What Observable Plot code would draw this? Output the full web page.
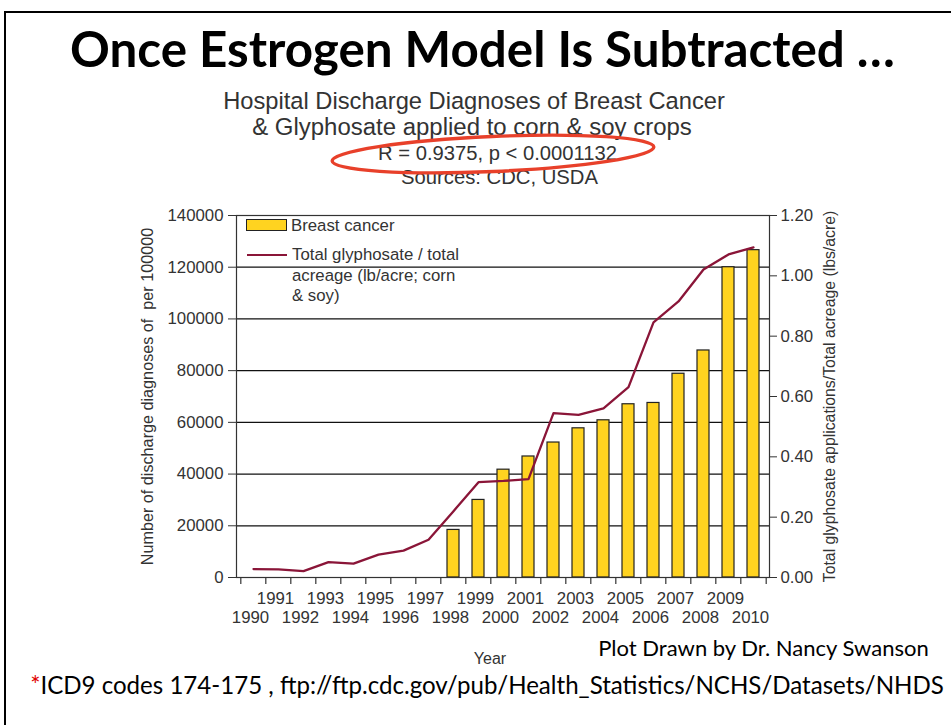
<!DOCTYPE html>
<html>
<head>
<meta charset="utf-8">
<script src="https://cdn.jsdelivr.net/npm/d3@7"></script>
<script src="https://cdn.jsdelivr.net/npm/@observablehq/plot@0.6"></script>
<style>
  html, body { margin: 0; padding: 0; background: #fff; }
  #page { position: relative; width: 951px; height: 725px; overflow: hidden; background: #fff; }
  #border { position: absolute; left: 4px; top: 11px; width: 1200px; height: 1000px; border-left: 2px solid #000; border-top: 2px solid #000; }
  .t { position: absolute; white-space: nowrap; line-height: 1; }
  .chart { font-family: "Liberation Sans", Arial, sans-serif; color: #333; }
  .slide { font-family: Lato, "Open Sans", sans-serif; color: #000; }
  #plot { position: absolute; left: 0; top: 195px; }
  .leg { position: absolute; font-family: "Liberation Sans", Arial, sans-serif; font-size: 16.8px; color: #333; white-space: nowrap; }
</style>
</head>
<body>
<div id="page">
  <div id="border"></div>
  <div id="plot"></div>
  <div class="t slide" id="title" style="font-weight:700;font-size:44px;">Once Estrogen Model Is Subtracted …</div>
  <div class="t chart" id="s1" style="font-size:21px;">Hospital Discharge Diagnoses of Breast Cancer</div>
  <div class="t chart" id="s2" style="font-size:21px;">&amp; Glyphosate applied to corn &amp; soy crops</div>
  <div class="t chart" id="s3" style="font-size:21px;">R = 0.9375, p &lt; 0.0001132</div>
  <div class="t chart" id="s4" style="font-size:21px;">Sources: CDC, USDA</div>
  <svg style="position:absolute;left:0;top:0;" width="951" height="725">
    <ellipse cx="493" cy="154" rx="161" ry="17.5" transform="rotate(-2.5 493 154)" fill="none" stroke="#e8402a" stroke-width="3.4"/>
  </svg>
  <div style="position:absolute;left:246px;top:219px;width:39px;height:10px;background:#FFD320;border:1.5px solid #222;"></div>
  <div class="leg" style="left:291px;top:216px;">Breast cancer</div>
  <div style="position:absolute;left:247px;top:253.5px;width:40px;height:2.5px;background:#8a1538;"></div>
  <div class="leg" style="left:292px;top:245px;line-height:20.5px;">Total glyphosate / total<br>acreage (lb/acre; corn<br>&amp; soy)</div>
  <div class="t slide" id="f1" style="font-size:20px;">Plot Drawn by Dr. Nancy Swanson</div>
  <div class="t slide" id="f2" style="font-size:23px;"><span style="color:#e00000;">*</span>ICD9 codes 174-175 , ftp://ftp.cdc.gov/pub/Health_Statistics/NCHS/Datasets/NHDS</div>
</div>
<script>
// ---- data ----
const years = [1990,1991,1992,1993,1994,1995,1996,1997,1998,1999,2000,2001,2002,2003,2004,2005,2006,2007,2008,2009,2010];
const cancerYears = [1998,1999,2000,2001,2002,2003,2004,2005,2006,2007,2008,2009,2010];
const cancerValues = [18400,30000,41700,46800,52200,57700,60800,67000,67500,78800,87800,120000,126600];
const glyphosateValues = [0.028,0.027,0.021,0.051,0.046,0.076,0.089,0.125,0.22,0.316,0.32,0.326,0.545,0.539,0.561,0.631,0.846,0.915,1.021,1.071,1.094];
const leftTicks = [0,20000,40000,60000,80000,100000,120000,140000];
const rightTicks = [0,0.2,0.4,0.6,0.8,1.0,1.2];
const leftMax = 140000, rightMax = 1.2;
const leftTitle = "Number of discharge diagnoses of  per 100000";
const rightTitle = "Total glyphosate applications/Total acreage (lbs/acre)";
const xTitle = "Year";

const k = leftMax / rightMax;
const bars = cancerYears.map((y, i) => ({year: y, value: cancerValues[i]}));
const line = years.map((y, i) => ({year: y, g: glyphosateValues[i]}));
const oddYears = years.filter(y => y % 2 === 1);
const evenYears = years.filter(y => y % 2 === 0);

const W = 951, H = 475, mL = 236, mR = 182, mT = 20, mB = 93;
const step = (W - mL - mR) / years.length;
const ink = "#333";

const chart = Plot.plot({
  width: W, height: H,
  marginTop: mT, marginBottom: mB, marginLeft: mL, marginRight: mR,
  style: {fontFamily: "'Liberation Sans', Arial, sans-serif", fontSize: "16.8px", color: ink, background: "transparent", overflow: "visible"},
  x: {type: "band", domain: years, paddingInner: 0.53, paddingOuter: 0.265},
  y: {domain: [0, leftMax]},
  marks: [
    Plot.ruleY(leftTicks, {stroke: "#111", strokeWidth: 1.2}),
    Plot.barY(bars, {x: "year", y: "value", fill: "#FFD320", stroke: "#222", strokeWidth: 1.2}),
    Plot.line(line, {x: "year", y: d => d.g * k, stroke: "#8a1538", strokeWidth: 2.3}),
    Plot.frame({stroke: ink, strokeWidth: 1.2}),
    Plot.axisY({ticks: leftTicks, anchor: "left", tickSize: 8, tickPadding: 5, tickFormat: d => String(d), label: null, stroke: ink}),
    Plot.axisY({ticks: rightTicks.map(v => v * k), anchor: "right", tickSize: 7, tickPadding: 4, tickFormat: d => (d / k).toFixed(2), label: null, stroke: ink}),
    Plot.axisX({ticks: oddYears, tickSize: 0, tickPadding: 14.5, tickFormat: d => String(d), label: null, dx: -3}),
    Plot.axisX({ticks: evenYears, tickSize: 0, tickPadding: 34, tickFormat: d => String(d), label: null, dx: -3}),
    Plot.ruleX(years, {x: d => d, y1: 0, y2: 0, insetBottom: -7, dx: -step / 2, stroke: ink, strokeWidth: 1.2}),
    Plot.ruleX([years[years.length - 1]], {x: d => d, y1: 0, y2: 0, insetBottom: -7, dx: step / 2, stroke: ink, strokeWidth: 1.2}),
    Plot.text([leftTitle], {text: d => d, frameAnchor: "left", textAnchor: "middle", rotate: -90, dx: -89, fontSize: 16.2}),
    Plot.text([rightTitle], {text: d => d, frameAnchor: "right", textAnchor: "middle", rotate: -90, dx: 60, fontSize: 15.8}),
    Plot.text([xTitle], {text: d => d, frameAnchor: "bottom", dx: -13, dy: 86, fontSize: 16})
  ]
});
document.getElementById("plot").appendChild(chart);

// fit text lines to the reference widths and centre them
function place(id, x0, x1, cy) {
  const el = document.getElementById(id);
  const fs = parseFloat(el.style.fontSize);
  const w = el.getBoundingClientRect().width;
  el.style.fontSize = (fs * (x1 - x0) / w) + "px";
  const r = el.getBoundingClientRect();
  el.style.left = ((x0 + x1) / 2 - r.width / 2) + "px";
  el.style.top = (cy - r.height / 2) + "px";
}
place("title", 70, 895, 49);
place("s1", 223, 725, 102);
place("s2", 252, 692, 127);
place("s3", 378, 617, 153);
place("s4", 401, 598, 177);
place("f1", 598, 929, 648);
place("f2", 30, 944, 685);
</script>
</body>
</html>
